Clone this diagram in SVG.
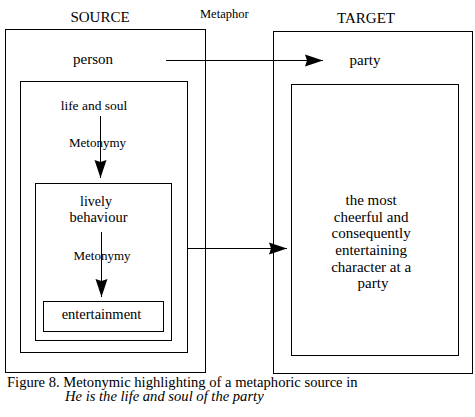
<svg xmlns="http://www.w3.org/2000/svg" width="475" height="417" viewBox="0 0 475 417" font-family="'Liberation Serif', 'DejaVu Serif', serif">
<style>
text{font-family:"Liberation Serif","DejaVu Serif",serif;fill:#000}
.box{fill:none;stroke:#000;stroke-width:1}
.mid{text-anchor:middle}
.conn line{stroke:#000;stroke-width:1}
</style>
<defs>
<marker id="ah" markerUnits="userSpaceOnUse" markerWidth="18" markerHeight="12" refX="18" refY="6" orient="auto" overflow="visible">
<path d="M0,0 L18,6 L0,12 L2,6 z" fill="#000"/>
</marker>
</defs>
<rect width="475" height="417" fill="#fff"/>
<text x="100" y="22" class="mid" font-size="15">SOURCE</text>
<text x="366" y="23" class="mid" font-size="15">TARGET</text>
<text x="200" y="18" font-size="12.5">Metaphor</text>
<g id="source">
<rect class="box" x="5.5" y="29.5" width="200" height="343"/>
<text x="93" y="64" class="mid" font-size="15" style="font-family:'Liberation Serif',serif">person</text>
</g>
<g id="lifeandsoul">
<rect class="box" x="20.5" y="81.5" width="167" height="271"/>
<text x="94" y="110" class="mid" font-size="13.5" style="font-family:'Liberation Serif',serif">life and soul</text>
</g>
<g id="lively">
<rect class="box" x="35.5" y="183.5" width="136" height="157"/>
<text x="96" y="206" class="mid" font-size="14" style="font-family:'Liberation Serif',serif">lively</text>
<text x="98.5" y="222" class="mid" font-size="14.5" style="font-family:'Liberation Serif',serif">behaviour</text>
</g>
<g id="entertainment">
<rect class="box" x="43.5" y="301.5" width="120" height="30"/>
<text x="101.5" y="319" class="mid" font-size="14.5" style="font-family:'Liberation Serif',serif">entertainment</text>
</g>
<g id="target">
<rect class="box" x="273.5" y="31.5" width="199" height="342"/>
<text x="365" y="65" class="mid" font-size="15" style="font-family:'Liberation Serif',serif">party</text>
</g>
<g id="character">
<rect class="box" x="291.5" y="84.5" width="167" height="271"/>
<text class="mid" font-size="15" style="font-family:'Liberation Serif',serif">
<tspan x="373" y="205">the most</tspan>
<tspan x="373" y="221.7">cheerful and </tspan>
<tspan x="373" y="238.3">consequently</tspan>
<tspan x="373" y="255">entertaining</tspan>
<tspan x="373" y="271.7">character at a</tspan>
<tspan x="373" y="288.3">party</tspan>
</text>
</g>
<text x="97.5" y="147" class="mid" font-size="13">Metonymy</text>
<text x="102" y="260" class="mid" font-size="13">Metonymy</text>
<g class="conn" id="connectors">
<line x1="166" y1="60.5" x2="323" y2="60.5" marker-end="url(#ah)"/>
<line x1="187.5" y1="248.5" x2="287" y2="248.5" marker-end="url(#ah)"/>
<line x1="100.5" y1="116" x2="100.5" y2="178" marker-end="url(#ah)"/>
<line x1="101.5" y1="232" x2="101.5" y2="297" marker-end="url(#ah)"/>
</g>
<text x="7" y="386.5" font-size="14.6">Figure 8. Metonymic highlighting of a metaphoric source in</text>
<text x="65" y="401" font-size="14.6" font-style="italic">He is the life and soul of the party</text>
</svg>
